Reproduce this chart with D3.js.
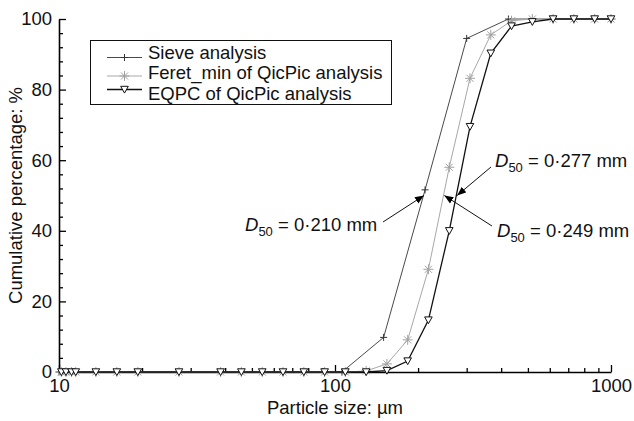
<!DOCTYPE html>
<html>
<head>
<meta charset="utf-8">
<script src="https://cdn.jsdelivr.net/npm/d3@7"></script>
<style>
  body { margin: 0; background: #fff; }
  svg { font-family: "Liberation Sans", Arial, sans-serif; }
</style>
</head>
<body>
<div id="chart"></div>
<script>
// QicPic size classes (µm) and cumulative percentages
const qicSizes = [10.2, 10.6, 11.1, 11.5, 13.6, 16.2, 19.3, 27.2, 38.5, 45.8, 54.5, 64.8, 77.1, 91.7, 109,
  129.7, 154.2, 183.4, 218, 259.4, 308.4, 366.8, 436.2, 518.8, 616.9, 733.6, 872.4, 1000];
const feretPct = [0, 0, 0, 0, 0, 0, 0, 0, 0, 0, 0, 0, 0, 0, 0,
  0.3, 2.3, 9.1, 29.1, 58, 83.2, 95.5, 99.5, 100, 100, 100, 100, 100];
const eqpcPct = [0, 0, 0, 0, 0, 0, 0, 0, 0, 0, 0, 0, 0, 0, 0,
  0, 0.4, 3.1, 14.7, 40, 69.5, 90.3, 98, 99.2, 100, 100, 100, 100];

// sieve analysis
const sieveSizes = [10, 106, 150, 212, 300, 425, 1000];
const sievePct = [0, 0, 9.8, 51.6, 94.5, 100, 100];

const legendLabels = ["Sieve analysis", "Feret_min of QicPic analysis", "EQPC of QicPic analysis"];
const xTickLabels = [10, 100, 1000];
const yTickLabels = [0, 20, 40, 60, 80, 100];

// D50 annotations: size in µm, label text
const d50Sizes = [210, 249, 277];
const d50Labels = ["0·210 mm", "0·249 mm", "0·277 mm"];

const width = 634, height = 421;
const fontSize = 18.5;

const svg = d3.select("#chart").append("svg")
  .attr("width", width)
  .attr("height", height);

const x = d3.scaleLog().domain([10, 1000]).range([59, 611]);
const y = d3.scaleLinear().domain([0, 100]).range([372, 19]);

// arrow head
svg.append("defs").append("marker")
  .attr("id", "arrow")
  .attr("viewBox", "0 -5 10 10")
  .attr("refX", 10)
  .attr("refY", 0)
  .attr("markerWidth", 9)
  .attr("markerHeight", 9)
  .attr("markerUnits", "userSpaceOnUse")
  .attr("orient", "auto")
  .append("path")
  .attr("d", "M0,-4L10,0L0,4Z")
  .attr("fill", "#000");

// axes
svg.append("g")
  .attr("transform", "translate(" + x.range()[0] + ",0)")
  .call(d3.axisLeft(y).tickValues(yTickLabels).tickSizeInner(-7).tickSizeOuter(0).tickPadding(7));
svg.append("g")
  .attr("transform", "translate(" + x.range()[0] + ",0)")
  .call(d3.axisLeft(y).tickValues(d3.range(0, 101, 4).filter(v => v % 20 !== 0))
    .tickSizeInner(-4).tickSizeOuter(0).tickFormat(""))
  .call(g => g.select(".domain").remove());

svg.append("g")
  .attr("transform", "translate(0," + y.range()[0] + ")")
  .call(d3.axisBottom(x).tickValues(xTickLabels).tickFormat(d3.format("d"))
    .tickSizeInner(-7).tickSizeOuter(0).tickPadding(7));
svg.append("g")
  .attr("transform", "translate(0," + y.range()[0] + ")")
  .call(d3.axisBottom(x).tickValues(x.ticks().filter(v => xTickLabels.indexOf(v) < 0))
    .tickSizeInner(-4).tickSizeOuter(0).tickFormat(""))
  .call(g => g.select(".domain").remove());

svg.selectAll(".domain").attr("stroke-width", 1.6);
svg.selectAll(".tick line").attr("stroke-width", 1.3);
svg.selectAll(".tick text")
  .attr("font-size", fontSize)
  .attr("font-family", "'Liberation Sans', Arial, sans-serif")
  .attr("fill", "#111");

svg.append("text")
  .attr("x", (x.range()[0] + x.range()[1]) / 2)
  .attr("y", 414)
  .attr("text-anchor", "middle")
  .attr("font-size", fontSize)
  .attr("fill", "#111")
  .text("Particle size: µm");

svg.append("text")
  .attr("transform", "translate(22," + (y(50)) + ") rotate(-90)")
  .attr("text-anchor", "middle")
  .attr("font-size", fontSize)
  .attr("fill", "#111")
  .text("Cumulative percentage: %");

// marker shapes
const plusPath = "M-3.5,0H3.5M0,-3.5V3.5";
const starPath = (function() {
  let r = 5, p = "";
  for (let i = 0; i < 4; i++) {
    let a = i * Math.PI / 4;
    p += "M" + (-r * Math.cos(a)) + "," + (-r * Math.sin(a)) + "L" + (r * Math.cos(a)) + "," + (r * Math.sin(a));
  }
  return p;
})();
const triPath = "M-3.8,-3.2L3.8,-3.2L0,3.6Z";

const series = [
  { sizes: sieveSizes, pct: sievePct, color: "#4a4a4a", width: 1, marker: plusPath, fill: "none", mcolor: "#333" },
  { sizes: qicSizes, pct: feretPct, color: "#a8a8a8", width: 1, marker: starPath, fill: "none", mcolor: "#a0a0a0" },
  { sizes: qicSizes, pct: eqpcPct, color: "#111", width: 1.3, marker: triPath, fill: "#fff", mcolor: "#111" }
];

const line = d3.line()
  .x(d => x(d[0]))
  .y(d => y(d[1]));

series.forEach(function(s) {
  let pts = s.sizes.map((v, i) => [v, s.pct[i]]);
  svg.append("path")
    .datum(pts)
    .attr("fill", "none")
    .attr("stroke", s.color)
    .attr("stroke-width", s.width)
    .attr("d", line);
  svg.append("g").selectAll("path")
    .data(pts)
    .enter()
    .append("path")
    .attr("transform", d => "translate(" + x(d[0]) + "," + y(d[1]) + ")")
    .attr("d", s.marker)
    .attr("fill", s.fill)
    .attr("stroke", s.mcolor)
    .attr("stroke-width", 1);
});

// legend
const legend = svg.append("g");
legend.append("rect")
  .attr("x", 90.5).attr("y", 40.5)
  .attr("width", 301).attr("height", 64)
  .attr("fill", "#fff")
  .attr("stroke", "#111")
  .attr("stroke-width", 1);

const legendSampleY = [57.5, 76, 89.5];
const legendTextY = [58.5, 79, 99.5];
legendLabels.forEach(function(label, i) {
  let s = series[i];
  legend.append("line")
    .attr("x1", 107).attr("x2", 142)
    .attr("y1", legendSampleY[i]).attr("y2", legendSampleY[i])
    .attr("stroke", s.color)
    .attr("stroke-width", s.width);
  legend.append("path")
    .attr("transform", "translate(124.5," + legendSampleY[i] + ")")
    .attr("d", s.marker)
    .attr("fill", s.fill)
    .attr("stroke", s.mcolor);
  legend.append("text")
    .attr("x", 148)
    .attr("y", legendTextY[i])
    .attr("font-size", fontSize)
    .attr("fill", "#111")
    .text(label);
});

// D50 annotations
const notePos = [[245, 231], [497, 237], [495, 167]];
const tailPos = [[383, 222], [492, 226], [491, 167]];
d50Sizes.forEach(function(v, i) {
  let t = svg.append("text")
    .attr("x", notePos[i][0])
    .attr("y", notePos[i][1])
    .attr("font-size", fontSize)
    .attr("fill", "#111");
  t.append("tspan").attr("font-style", "italic").text("D");
  t.append("tspan").attr("font-size", 13).attr("dy", 5).text("50");
  t.append("tspan").attr("dy", -5).text(" = " + d50Labels[i]);

  svg.append("line")
    .attr("x1", tailPos[i][0]).attr("y1", tailPos[i][1])
    .attr("x2", x(v)).attr("y2", y(50))
    .attr("stroke", "#111")
    .attr("stroke-width", 1)
    .attr("marker-end", "url(#arrow)");
});
</script>
</body>
</html>
